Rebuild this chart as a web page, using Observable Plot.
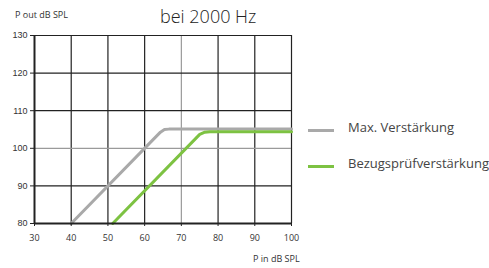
<!DOCTYPE html>
<html><head><meta charset="utf-8">
<script src="https://cdn.jsdelivr.net/npm/d3@7"></script>
<script src="https://cdn.jsdelivr.net/npm/@observablehq/plot@0.6"></script>
<style>
body{margin:0;background:#fff;}
#wrap{position:relative;width:489px;height:268px;font-family:"Open Sans",sans-serif;color:#333;}
.lbl{position:absolute;white-space:nowrap;}
.sw{position:absolute;height:3px;width:26px;}
</style>
</head><body>
<div id="wrap"></div>
<script>
const title = "bei 2000 Hz";
const yLabel = "P out dB SPL";
const xLabel = "P in dB SPL";
const seriesNames = ["Max. Verstärkung", "Bezugsprüfverstärkung"];
const seriesColors = ["#a9a9a9", "#7dc242"];
const xTicks = [30, 40, 50, 60, 70, 80, 90, 100];
const yTicks = [80, 90, 100, 110, 120, 130];
const xMax = [40, 64.3, 65.4, 66.6, 100];
const yMax = [80, 104.3, 105.0, 105.1, 105.1];
const xRef = [51.3, 75.0, 76.4, 77.8, 100];
const yRef = [80, 103.7, 104.3, 104.4, 104.4];

const rows = [
  ...xMax.map((x, i) => ({x, y: yMax[i], s: seriesNames[0]})),
  ...xRef.map((x, i) => ({x, y: yRef[i], s: seriesNames[1]}))
];

const chart = Plot.plot({
  width: 489, height: 268,
  marginLeft: 34, marginRight: 198, marginTop: 35, marginBottom: 45,
  x: {domain: [30, 100]},
  y: {domain: [80, 130]},
  color: {domain: seriesNames, range: seriesColors},
  style: {fontFamily: "Liberation Sans, Arial, sans-serif", fontSize: "9px", color: "#333"},
  marks: [
    Plot.ruleX(xTicks.filter(d => d !== 30), {stroke: d => d === 70 ? "#9a9a9a" : "#222", strokeWidth: 1.2, strokeOpacity: 1}),
    Plot.ruleY(yTicks.filter(d => d !== 80), {stroke: d => d === 100 ? "#9a9a9a" : "#222", strokeWidth: 1.2, strokeOpacity: 1}),
    Plot.line(rows, {x: "x", y: "y", z: "s", stroke: "s", strokeWidth: 3, strokeLinejoin: "round"}),
    Plot.ruleX([30], {stroke: "#222", strokeWidth: 2}),
    Plot.ruleY([80], {stroke: "#222", strokeWidth: 2}),
    Plot.axisY({ticks: yTicks, tickSize: 4, tickPadding: 3, label: null, stroke: "#222", fill: "#333"}),
    Plot.axisX({ticks: xTicks, tickSize: 3, tickPadding: 8, label: null, stroke: "#222", fill: "#333", fontFamily: "Open Sans, sans-serif"})
  ]
});
const wrap = document.getElementById("wrap");
wrap.appendChild(chart);
chart.style.position = "absolute"; chart.style.left = "0"; chart.style.top = "0";

function addLabel(text, left, top, size, weight, color) {
  const d = document.createElement("div");
  d.className = "lbl"; d.textContent = text;
  d.style.left = left + "px"; d.style.top = top + "px";
  d.style.fontSize = size + "px"; d.style.fontWeight = weight; d.style.color = color;
  d.style.lineHeight = "1";
  wrap.appendChild(d);
}
addLabel(title, 160, 7, 18, 300, "#222");
addLabel(yLabel, 15, 10, 9, 400, "#333");
addLabel(xLabel, 253, 254, 9, 400, "#333");
seriesNames.forEach((name, i) => {
  const sw = document.createElement("div");
  sw.className = "sw"; sw.style.background = seriesColors[i];
  sw.style.left = "308px"; sw.style.top = (129 + i * 36) + "px";
  wrap.appendChild(sw);
  addLabel(name, 348, 121 + i * 36, 13, 400, "#444");
});
</script>
</body></html>
